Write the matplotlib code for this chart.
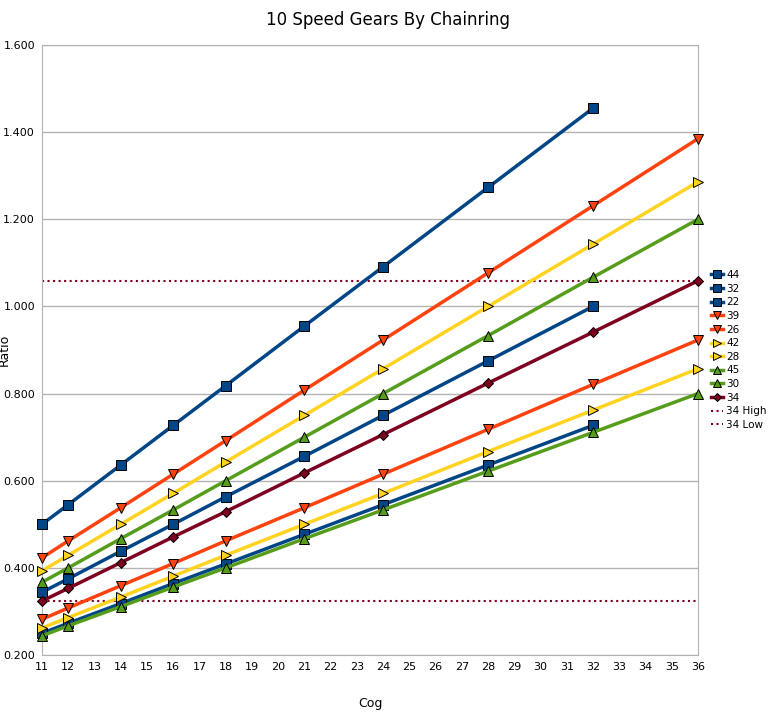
import matplotlib.pyplot as plt

cogs = [11, 12, 14, 16, 18, 21, 24, 28, 32, 36]

ring_22 = [0.500, 0.545, 0.636, 0.727, 0.818, 0.955, 1.091, 1.273, 1.455]
ring_32 = [0.344, 0.375, 0.438, 0.500, 0.563, 0.656, 0.750, 0.875, 1.000]
ring_44 = [0.250, 0.273, 0.318, 0.364, 0.409, 0.477, 0.545, 0.636, 0.727]
ring_26 = [0.423, 0.462, 0.538, 0.615, 0.692, 0.808, 0.923, 1.077, 1.231, 1.385]
ring_39 = [0.282, 0.308, 0.359, 0.410, 0.462, 0.538, 0.615, 0.718, 0.821, 0.923]
ring_28 = [0.393, 0.429, 0.500, 0.571, 0.643, 0.750, 0.857, 1.000, 1.143, 1.286]
ring_42 = [0.262, 0.286, 0.333, 0.381, 0.429, 0.500, 0.571, 0.667, 0.762, 0.857]
ring_30 = [0.367, 0.400, 0.467, 0.533, 0.600, 0.700, 0.800, 0.933, 1.067, 1.200]
ring_45 = [0.244, 0.267, 0.311, 0.356, 0.400, 0.467, 0.533, 0.622, 0.711, 0.800]
ring_34 = [0.324, 0.353, 0.412, 0.471, 0.529, 0.618, 0.706, 0.824, 0.941, 1.059]
high_34 = 1.059
low_34 = 0.324

BLUE, ORANGE, YELLOW, GREEN, RED = "#004586", "#ff420e", "#ffd320", "#579d1c", "#7e0021"

series = [
    ("44", ring_44, BLUE, "s"),
    ("32", ring_32, BLUE, "s"),
    ("22", ring_22, BLUE, "s"),
    ("39", ring_39, ORANGE, "v"),
    ("26", ring_26, ORANGE, "v"),
    ("42", ring_42, YELLOW, ">"),
    ("28", ring_28, YELLOW, ">"),
    ("45", ring_45, GREEN, "^"),
    ("30", ring_30, GREEN, "^"),
    ("34", ring_34, RED, "D"),
]

fig = plt.figure(figsize=(7.77, 7.14), dpi=100)
ax = fig.add_axes([42 / 777, 1 - 655 / 714, 656 / 777, 610 / 714])

for label, vals, color, marker in series:
    ax.plot(cogs[:len(vals)], vals, color=color, lw=2.5, marker=marker,
            markersize=6.5 if marker != "D" else 5, markeredgecolor="black",
            markeredgewidth=0.7, label=label, zorder=3, clip_on=False)

ax.axhline(high_34, color=RED, ls=":", lw=1.5, label="34 High", zorder=2)
ax.axhline(low_34, color=RED, ls=":", lw=1.5, label="34 Low", zorder=2)

ax.set_xlim(11, 36)
ax.set_ylim(0.2, 1.6)
ax.set_xticks(range(11, 37))
ax.set_yticks([0.2, 0.4, 0.6, 0.8, 1.0, 1.2, 1.4, 1.6])
ax.set_yticklabels([f"{v:.3f}" for v in ax.get_yticks()])
ax.tick_params(labelsize=8, length=0, pad=5)
ax.grid(axis="y", color="#b3b3b3", lw=1)
ax.set_axisbelow(True)
for s in ax.spines.values():
    s.set_color("#b3b3b3")

ax.set_xlabel("Cog", fontsize=9, labelpad=18)
ax.set_ylabel("Ratio", fontsize=9)
ax.yaxis.set_label_coords(-0.047, 0.5)
fig.suptitle("10 Speed Gears By Chainring", fontsize=12, y=0.985)

ax.legend(loc="center left", bbox_to_anchor=(1.005, 0.5), frameon=False,
          fontsize=7.5, handlelength=1.2, labelspacing=0.35, handletextpad=0.3,
          markerscale=0.8)

fig.savefig("out.png", dpi=100)
